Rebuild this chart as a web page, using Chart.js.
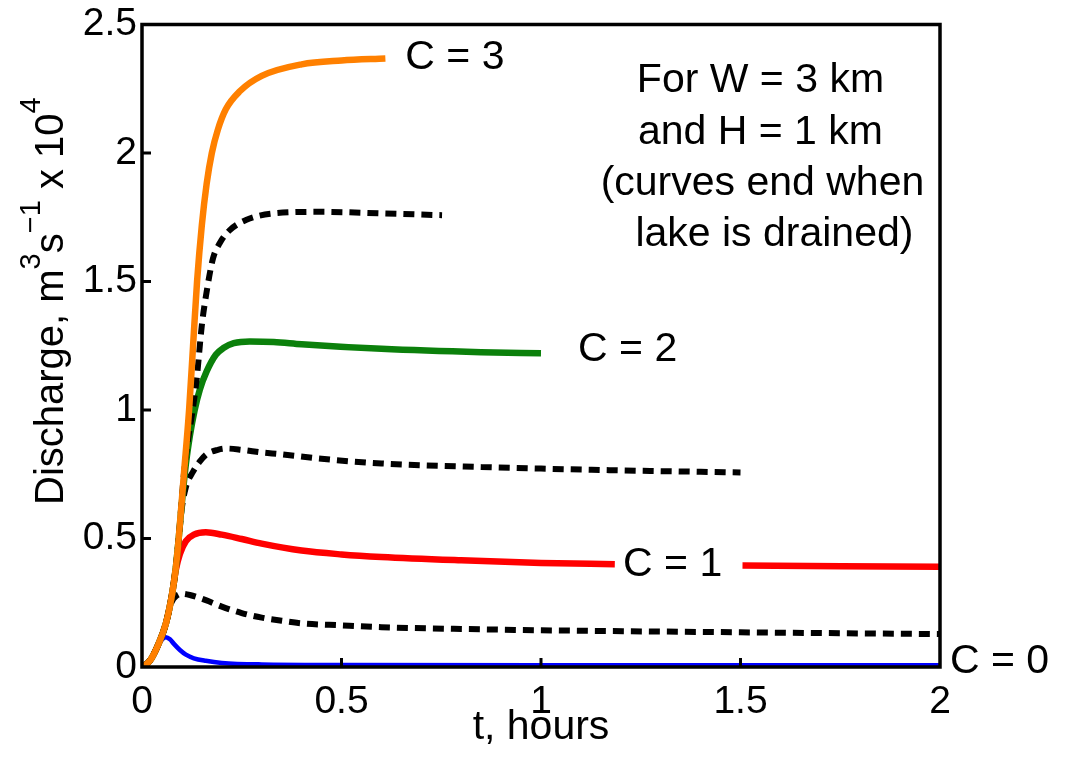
<!DOCTYPE html>
<html>
<head>
<meta charset="utf-8">
<title>Discharge vs time</title>
<script src="https://cdn.jsdelivr.net/npm/chart.js@4.4.1/dist/chart.umd.min.js"></script>
<style>
  html, body { margin: 0; padding: 0; background: #fff; }
  #chart { display: block; }
</style>
</head>
<body>
<canvas id="chart" width="1070" height="759"></canvas>
<script>
// t in hours, discharge in units of 10^4 m^3/s
const tC3 = [0, 0.02, 0.04, 0.06, 0.075, 0.085, 0.092, 0.105, 0.118, 0.128, 0.138, 0.15, 0.162, 0.175, 0.19, 0.21, 0.245, 0.3, 0.4, 0.5, 0.61];
const qC3 = [0, 0.025, 0.085, 0.17, 0.28, 0.39, 0.5, 0.75, 1.0, 1.25, 1.5, 1.72, 1.88, 2.0, 2.09, 2.17, 2.24, 2.3, 2.345, 2.36, 2.368];

const tC25 = [0, 0.02, 0.04, 0.06, 0.075, 0.085, 0.092, 0.105, 0.115, 0.125, 0.137, 0.15, 0.162, 0.178, 0.195, 0.22, 0.262, 0.33, 0.45, 0.6, 0.752];
const qC25 = [0, 0.025, 0.085, 0.17, 0.28, 0.39, 0.5, 0.75, 0.88, 0.98, 1.12, 1.33, 1.46, 1.59, 1.65, 1.7, 1.74, 1.765, 1.771, 1.765, 1.758];

const tC2 = [0, 0.02, 0.04, 0.06, 0.075, 0.085, 0.092, 0.1, 0.11, 0.12, 0.132, 0.145, 0.162, 0.185, 0.204, 0.23, 0.27, 0.33, 0.4, 0.6, 0.85, 1.0];
const qC2 = [0, 0.025, 0.085, 0.17, 0.28, 0.39, 0.5, 0.64, 0.79, 0.9, 1.0, 1.08, 1.15, 1.215, 1.241, 1.26, 1.267, 1.265, 1.256, 1.238, 1.225, 1.221];

const tC15 = [0, 0.02, 0.04, 0.06, 0.075, 0.085, 0.092, 0.1, 0.11, 0.128, 0.145, 0.162, 0.19, 0.212, 0.25, 0.3, 0.346, 0.45, 0.6, 0.85, 1.0, 1.2, 1.5];
const qC15 = [0, 0.025, 0.085, 0.17, 0.28, 0.39, 0.5, 0.62, 0.7, 0.76, 0.8, 0.828, 0.845, 0.85, 0.845, 0.835, 0.828, 0.81, 0.792, 0.778, 0.772, 0.765, 0.757];

// null leaves room for the "C = 1" label
const tC1 = [0, 0.02, 0.04, 0.06, 0.075, 0.085, 0.095, 0.11, 0.13, 0.16, 0.2, 0.25, 0.3, 0.4, 0.5, 0.6, 0.8, 1.0, 1.185, 1.3, 1.505, 2.0];
const qC1 = [0, 0.025, 0.085, 0.17, 0.28, 0.38, 0.44, 0.49, 0.515, 0.524, 0.515, 0.498, 0.48, 0.453, 0.438, 0.428, 0.415, 0.405, 0.4, null, 0.395, 0.39];

const tC05 = [0, 0.02, 0.04, 0.06, 0.068, 0.075, 0.085, 0.1, 0.12, 0.16, 0.2, 0.25, 0.3, 0.35, 0.4, 0.5, 0.6, 0.8, 1.0, 1.5, 2.0];
const qC05 = [0, 0.025, 0.085, 0.17, 0.22, 0.255, 0.275, 0.285, 0.28, 0.26, 0.235, 0.21, 0.192, 0.18, 0.17, 0.162, 0.155, 0.148, 0.143, 0.135, 0.128];

const tC0 = [0, 0.02, 0.04, 0.052, 0.06, 0.07, 0.08, 0.095, 0.11, 0.13, 0.16, 0.2, 0.3, 0.5, 1.0, 2.0];
const qC0 = [0, 0.025, 0.085, 0.11, 0.116, 0.108, 0.09, 0.066, 0.048, 0.034, 0.024, 0.016, 0.01, 0.008, 0.007, 0.007];

const xTicks = [0, 0.5, 1, 1.5, 2];
const yTicks = [0, 0.5, 1, 1.5, 2, 2.5];

const curveLabels = ['C = 3', 'C = 2', 'C = 1', 'C = 0'];
const noteLines = ['For W = 3 km', 'and H = 1 km', '(curves end when', 'lake is drained)'];

const FONT = "'Liberation Sans', Arial, Helvetica, sans-serif";

const pts = (ts, qs) => ts.map((t, i) => ({ x: t, y: qs[i] }));

function solid(color, ts, qs, width) {
    return {
        data: pts(ts, qs),
        borderColor: color,
        borderWidth: width,
        pointRadius: 0,
        cubicInterpolationMode: 'monotone',
        spanGaps: false,
        borderCapStyle: 'butt'
    };
}

function dashed(ts, qs) {
    return Object.assign(solid('#000000', ts, qs, 6), { borderDash: [11, 7] });
}

// frame, inward ticks, y title with superscripts and the curve labels
const decorations = {
    id: 'decorations',
    afterDraw(chart) {
        const { ctx, chartArea: a, scales: { x, y } } = chart;
        ctx.save();

        ctx.strokeStyle = '#000';
        ctx.lineWidth = 3.5;
        ctx.strokeRect(a.left, a.top, a.right - a.left, a.bottom - a.top);

        ctx.lineWidth = 3;
        ctx.beginPath();
        x.ticks.forEach(t => {
            if (t.value <= x.min || t.value >= x.max) return;
            const px = x.getPixelForValue(t.value);
            ctx.moveTo(px, a.bottom);
            ctx.lineTo(px, a.bottom - 9);
        });
        y.ticks.forEach(t => {
            if (t.value <= y.min || t.value >= y.max) return;
            const py = y.getPixelForValue(t.value);
            ctx.moveTo(a.left, py);
            ctx.lineTo(a.left + 9, py);
        });
        ctx.stroke();

        // y axis title
        ctx.fillStyle = '#000';
        ctx.textBaseline = 'alphabetic';
        ctx.textAlign = 'left';
        ctx.translate(63, 505);
        ctx.rotate(-Math.PI / 2);
        const parts = [
            ['Discharge, m', 40, 0],
            ['3', 29, -23],
            ['s', 40, 0],
            ['\u22121', 29, -23],
            [' x 10', 40, 0],
            ['4', 29, -23]
        ];
        let cx = 0;
        parts.forEach(([txt, size, dy]) => {
            ctx.font = size + 'px ' + FONT;
            ctx.fillText(txt, cx, dy);
            cx += ctx.measureText(txt).width;
        });
        ctx.setTransform(1, 0, 0, 1, 0, 0);

        // curve labels
        ctx.font = '41px ' + FONT;
        ctx.textBaseline = 'middle';
        const spots = [[0.66, 2.37, 'left'], [1.093, 1.235, 'left'], [1.33, 0.4, 'center'], [2.025, 0.022, 'left']];
        curveLabels.forEach((txt, i) => {
            const [tv, qv, align] = spots[i];
            ctx.textAlign = align;
            ctx.fillText(txt, x.getPixelForValue(tv), y.getPixelForValue(qv));
        });

        // note in the upper right
        ctx.textAlign = 'center';
        const noteX = [1.55, 1.55, 1.555, 1.585];
        const top = y.getPixelForValue(2.28);
        noteLines.forEach((txt, i) => {
            ctx.fillText(txt, x.getPixelForValue(noteX[i]), top + i * 51.3);
        });

        ctx.restore();
    }
};

new Chart(document.getElementById('chart'), {
    type: 'line',
    data: {
        datasets: [
            solid('#ff8000', tC3, qC3, 6.5),
            dashed(tC25, qC25),
            solid('#0b800b', tC2, qC2, 6.5),
            dashed(tC15, qC15),
            solid('#ff0000', tC1, qC1, 6.5),
            dashed(tC05, qC05),
            solid('#0000ff', tC0, qC0, 4.5)
        ]
    },
    options: {
        responsive: false,
        animation: false,
        devicePixelRatio: 1,
        layout: { padding: { top: 22, right: 130, left: 0, bottom: 0 } },
        plugins: {
            legend: { display: false },
            tooltip: { enabled: false }
        },
        scales: {
            x: {
                type: 'linear',
                min: 0,
                max: 2,
                afterBuildTicks: s => { s.ticks = xTicks.map(v => ({ value: v })); },
                afterFit: s => { s.height = 92; },
                grid: { display: false, drawTicks: false },
                border: { display: false },
                ticks: {
                    color: '#000',
                    padding: 16,
                    maxRotation: 0,
                    callback: v => String(v),
                    font: { family: FONT, size: 39, lineHeight: 1 }
                },
                title: {
                    display: true,
                    text: 't, hours',
                    color: '#000',
                    padding: { top: 0, bottom: 7 },
                    font: { family: FONT, size: 41 }
                }
            },
            y: {
                type: 'linear',
                min: 0,
                max: 2.5,
                afterBuildTicks: s => { s.ticks = yTicks.map(v => ({ value: v })); },
                afterFit: s => { s.width = 142; },
                grid: { display: false, drawTicks: false },
                border: { display: false },
                ticks: {
                    color: '#000',
                    padding: 5,
                    callback: v => String(v),
                    font: { family: FONT, size: 39, lineHeight: 1 }
                }
            }
        }
    },
    plugins: [decorations]
});
</script>
</body>
</html>
